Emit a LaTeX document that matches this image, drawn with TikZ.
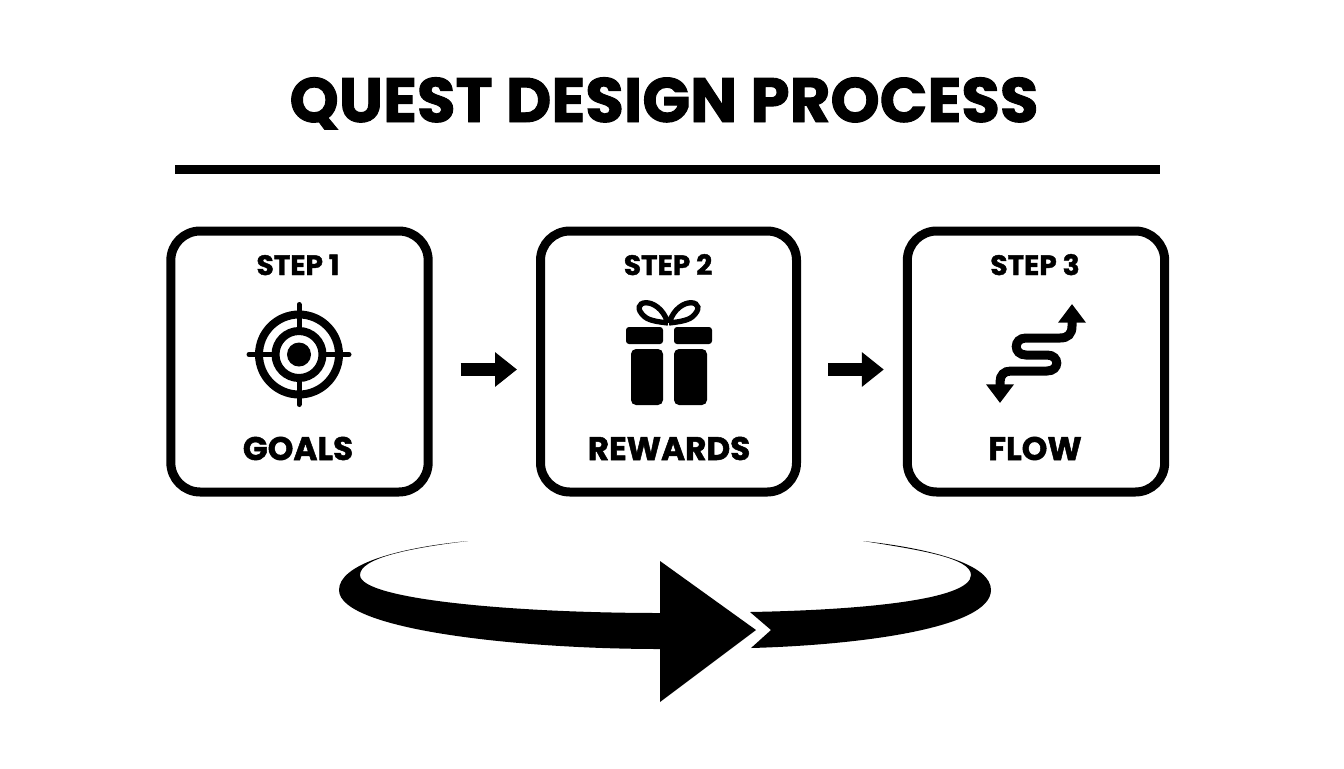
\documentclass[tikz,border=0pt]{standalone}
\usepackage{fontspec}
\setmainfont{Poppins}[BoldFeatures={FakeBold=1.5}]
\usetikzlibrary{arrows.meta}
\tikzset{
    stepbox/.style={draw,line width=6.75pt,rounded corners=22pt,minimum height=195.75pt},
    steplabel/.style={anchor=base,font=\bfseries\fontsize{21}{21}\selectfont},
    stepname/.style={anchor=base,font=\bfseries\fontsize{24.5}{24.5}\selectfont},
    steparrow/.style={line width=9.75pt,-{Triangle[length=16.5pt,width=25pt]}},
}
\begin{document}
\begin{tikzpicture}[x=0.75pt,y=-0.75pt]
        \useasboundingbox (0,0) rectangle (1344,768);
        %% title and rule
        \node[anchor=base,font=\bfseries\fontsize{47}{47}\selectfont] (title) at (664,122) {QUEST DESIGN PROCESS};
        \coordinate (ruleleft) at (175,169.5);
        \coordinate (ruleright) at (1160,169.5);
        \draw[line width=6.75pt] (ruleleft) -- (ruleright);
        %% step boxes
        \node[stepbox,minimum width=193pt] (goals) at (299.5,361.5) {};
        \node[stepbox,minimum width=192pt] (rewards) at (668.5,361.5) {};
        \node[stepbox,minimum width=193pt] (flow) at (1036,361.5) {};
        \node[steplabel] (step1) at (298,275) {STEP 1};
        \node[steplabel] (step2) at (668,275) {STEP 2};
        \node[steplabel] (step3) at (1035,275) {STEP 3};
        \node[stepname] (goalsname) at (298,460) {GOALS};
        \node[stepname] (rewardsname) at (669,460) {REWARDS};
        \node[stepname] (flowname) at (1035,460) {FLOW};
        %% arrows between boxes
        \draw[steparrow] ([shift={(28,8)}]goals.east) -- ([shift={(-19,8)}]rewards.west);
        \draw[steparrow] ([shift={(27,8)}]rewards.east) -- ([shift={(-19,8)}]flow.west);
        %% target icon
        \begin{scope}[shift={(299,354.5)}]
            \draw[line width=6pt] (0,0) circle (40);
            \draw[line width=6pt] (0,0) circle (23.5);
            \fill (0,0) circle (12);
            \foreach \z in {0,90,180,270}
                \draw[line width=3.75pt,line cap=round] (\z:25) -- (\z:50);
        \end{scope}
        %% gift icon
        \fill[rounded corners=2.25pt] (626,327) rectangle (663,344);
        \fill[rounded corners=2.25pt] (674,327) rectangle (712,344);
        \fill[rounded corners=3.75pt] (631,349) -- (631,405) -- (663,405) -- (663,349) -- cycle;
        \fill[rounded corners=3.75pt] (674,349) -- (674,405) -- (707,405) -- (707,349) -- cycle;
        \draw[line width=4pt] (668,323) .. controls (658,293) and (626,301) .. (645,317) .. controls (650,321) and (660,322) .. (668,323);
        \draw[line width=4pt] (669,323) .. controls (679,293) and (711,301) .. (692,317) .. controls (687,321) and (677,322) .. (669,323);
        %% flow icon
        \draw[line width=6.75pt,{Triangle[length=14pt,width=20pt]}-{Triangle[length=14pt,width=20pt]}] (1000,403)
            -- (1000,382) .. controls (1000,375) and (1004,371) .. (1011,371)
            -- (1047,371) .. controls (1060,371) and (1060,355) .. (1047,355)
            -- (1026,355) .. controls (1013,355) and (1013,338) .. (1026,338)
            -- (1060,338) .. controls (1068,338) and (1072,334) .. (1072,326) -- (1072,304);
        %% big loop arrow
        \fill (468,541) .. controls (395,548) and (339,565) .. (339,590)
            .. controls (339,630) and (520,649) .. (660,649) -- (660,702) -- (756,630) -- (660,561) -- (660,613)
            .. controls (520,613) and (360,600) .. (360,575)
            .. controls (360,558) and (410,548) .. (468,541) -- cycle;
        \fill (863,541) .. controls (935,549) and (991,565) .. (991,590)
            .. controls (991,628) and (860,645) .. (751,648) -- (771,630) -- (750,612)
            .. controls (860,610) and (971,600) .. (971,575)
            .. controls (971,558) and (920,550) .. (863,541) -- cycle;
\end{tikzpicture}
\end{document}
